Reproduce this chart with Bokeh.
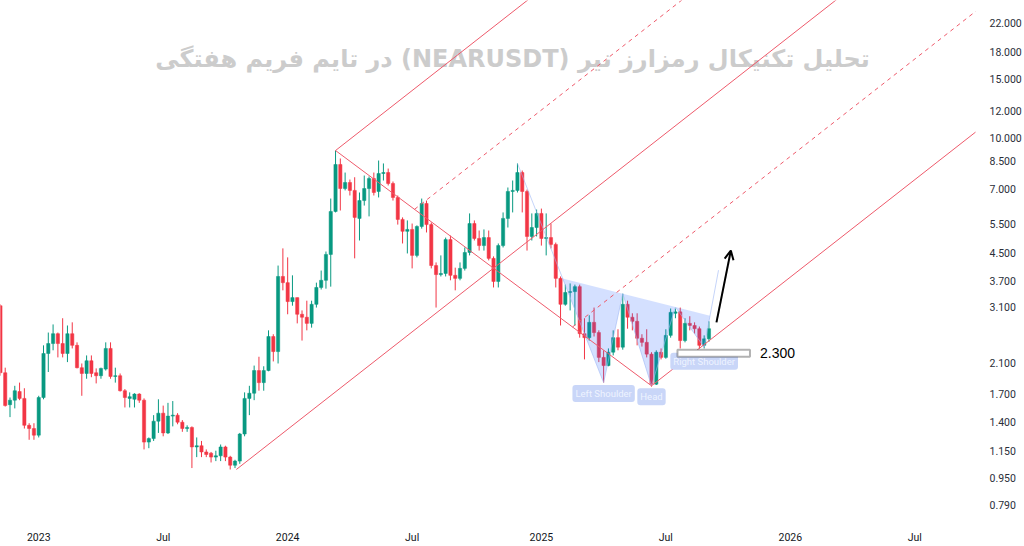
import numpy as np
import pandas as pd
from bokeh.plotting import figure
from bokeh.models import (Range1d, FixedTicker, NumeralTickFormatter, CustomJSTickFormatter,
                          Label, Arrow, OpenHead, BoxAnnotation, ColumnDataSource)
from bokeh.embed import file_html
from bokeh.resources import INLINE

# ---------------- data (weekly NEAR/USDT candles) ----------------
first_week = "2022-11-07"
opens = [3.13, 1.97, 1.58, 1.63, 1.73, 1.65, 1.37, 1.34, 1.28, 1.66,
         2.25, 2.41, 2.58, 2.41, 2.25, 2.58, 2.38, 2.04, 1.96, 2.14,
         1.97, 1.93, 2.02, 2.33, 1.92, 1.93, 1.74, 1.65, 1.64, 1.70,
         1.63, 1.22, 1.25, 1.41, 1.49, 1.30, 1.46, 1.47, 1.40, 1.34,
         1.35, 1.18, 1.19, 1.14, 1.13, 1.10, 1.11, 1.18, 1.10, 1.04,
         1.07, 1.29, 1.65, 1.71, 2.00, 1.84, 2.00, 2.53, 2.28, 3.83,
         3.67, 3.22, 3.31, 2.95, 2.89, 2.77, 3.16, 3.55, 3.73, 4.46,
         6.00, 8.30, 7.03, 7.33, 6.94, 5.72, 6.47, 7.03, 7.53, 6.89,
         7.80, 7.85, 7.28, 6.61, 5.68, 5.23, 5.30, 4.43, 5.41, 6.34,
         5.48, 4.13, 3.88, 3.91, 4.94, 3.86, 3.78, 4.05, 4.52, 5.52,
         4.98, 4.74, 5.01, 4.34, 3.70, 4.74, 5.72, 6.89, 6.94, 7.85,
         6.89, 5.05, 5.37, 5.92, 4.98, 5.01, 4.78, 3.78, 3.16, 3.43,
         3.45, 3.57, 2.58, 2.51, 2.79, 2.60, 2.19, 2.07, 2.27, 2.51,
         2.35, 3.16, 2.89, 2.81, 2.50, 2.43, 2.24, 1.82, 2.27, 2.19,
         2.55, 2.97, 3.00, 2.46, 2.77, 2.73, 2.67, 2.38, 2.49]
highs = [3.16, 2.04, 1.66, 1.80, 1.84, 1.77, 1.39, 1.39, 1.68, 2.38,
         2.60, 2.75, 2.60, 2.87, 2.73, 2.79, 2.43, 2.10, 2.22, 2.22,
         2.03, 2.04, 2.43, 2.43, 2.04, 1.96, 1.76, 1.72, 1.71, 1.71,
         1.65, 1.26, 1.47, 1.64, 1.57, 1.60, 1.62, 1.49, 1.42, 1.37,
         1.36, 1.26, 1.23, 1.16, 1.14, 1.15, 1.20, 1.19, 1.11, 1.08,
         1.30, 1.72, 1.80, 2.07, 2.20, 2.06, 2.64, 2.57, 4.13, 4.65,
         4.37, 3.86, 3.31, 3.03, 3.24, 3.24, 3.67, 3.99, 4.55, 6.56,
         9.14, 8.65, 7.85, 7.48, 7.60, 6.84, 7.69, 7.64, 7.85, 8.53,
         8.36, 8.07, 7.38, 6.70, 5.76, 5.64, 5.52, 5.45, 6.56, 6.47,
         5.56, 4.22, 4.43, 5.01, 5.08, 4.07, 4.22, 4.68, 5.92, 5.64,
         5.26, 5.30, 5.26, 4.40, 4.81, 5.96, 7.08, 7.43, 8.36, 7.96,
         6.98, 5.92, 6.08, 6.12, 5.92, 5.52, 4.84, 3.83, 3.62, 3.65,
         3.62, 3.62, 2.87, 2.93, 3.09, 2.64, 2.30, 2.33, 2.64, 2.66,
         3.40, 3.24, 2.97, 2.97, 2.57, 2.66, 2.27, 2.30, 2.33, 2.66,
         3.07, 3.07, 3.09, 2.87, 2.91, 2.79, 2.71, 2.55, 2.81]
lows = [1.93, 1.56, 1.45, 1.54, 1.63, 1.34, 1.24, 1.24, 1.26, 1.64,
        1.98, 2.30, 2.19, 2.19, 2.12, 2.33, 2.03, 1.68, 1.89, 1.91,
        1.83, 1.89, 2.00, 1.89, 1.84, 1.73, 1.55, 1.55, 1.55, 1.60,
        1.16, 1.17, 1.23, 1.30, 1.27, 1.29, 1.36, 1.38, 1.31, 1.31,
        1.02, 1.10, 1.10, 1.10, 1.06, 1.07, 1.07, 1.07, 1.01, 1.02,
        1.05, 1.27, 1.47, 1.63, 1.74, 1.74, 1.99, 2.13, 2.10, 3.48,
        2.95, 3.13, 2.77, 2.46, 2.64, 2.69, 3.09, 3.50, 3.52, 3.57,
        5.96, 6.04, 6.94, 6.70, 4.34, 4.91, 6.25, 5.80, 6.70, 6.61,
        7.43, 7.18, 6.47, 5.48, 4.81, 4.49, 4.05, 4.37, 5.33, 5.19,
        4.05, 3.09, 3.83, 3.83, 3.73, 3.48, 3.73, 3.99, 4.43, 4.91,
        4.58, 4.58, 4.28, 3.55, 3.55, 4.68, 5.37, 5.96, 6.84, 5.96,
        4.58, 4.91, 5.05, 4.74, 4.43, 4.65, 3.55, 2.73, 3.13, 3.03,
        2.73, 2.51, 2.16, 2.46, 2.53, 2.12, 1.84, 2.06, 2.22, 2.30,
        2.31, 2.67, 2.64, 2.38, 2.36, 2.19, 1.79, 1.81, 2.16, 2.17,
        2.51, 2.87, 2.33, 2.43, 2.64, 2.58, 2.33, 2.33, 2.44]
closes = [1.97, 1.57, 1.63, 1.74, 1.65, 1.37, 1.34, 1.28, 1.66, 2.25,
          2.41, 2.58, 2.41, 2.25, 2.58, 2.38, 2.04, 1.96, 2.14, 1.96,
          1.93, 2.03, 2.33, 1.92, 1.93, 1.74, 1.66, 1.67, 1.70, 1.63,
          1.22, 1.25, 1.41, 1.49, 1.30, 1.46, 1.47, 1.40, 1.34, 1.35,
          1.18, 1.19, 1.14, 1.12, 1.10, 1.11, 1.18, 1.10, 1.04, 1.07,
          1.29, 1.65, 1.71, 2.00, 1.84, 2.00, 2.53, 2.28, 3.83, 3.67,
          3.22, 3.31, 2.95, 2.89, 2.77, 3.16, 3.55, 3.73, 4.46, 6.00,
          8.30, 7.03, 7.33, 6.94, 5.76, 6.47, 7.03, 7.53, 6.84, 7.80,
          7.85, 7.28, 6.61, 5.68, 5.23, 5.30, 4.43, 5.41, 6.34, 5.48,
          4.13, 3.88, 3.91, 4.94, 3.86, 3.78, 4.05, 4.52, 5.52, 4.98,
          4.74, 5.01, 4.34, 3.70, 4.74, 5.72, 6.89, 6.94, 7.85, 6.89,
          5.05, 5.37, 5.92, 4.98, 5.01, 4.78, 3.78, 3.16, 3.43, 3.45,
          3.57, 2.58, 2.51, 2.79, 2.60, 2.19, 2.07, 2.27, 2.51, 2.35,
          3.16, 2.89, 2.81, 2.50, 2.43, 2.24, 1.82, 2.27, 2.19, 2.55,
          2.99, 3.00, 2.46, 2.77, 2.73, 2.67, 2.38, 2.49, 2.67]

price_ticks = [0.79, 0.95, 1.15, 1.4, 1.7, 2.1, 3.1, 3.7, 4.5, 5.5,
               7.0, 8.5, 10.0, 12.0, 15.0, 18.0, 22.0]
# time labels sit on the first weekly bar of each period
time_tick_dates = ["2023-01-02", "2023-07-03", "2024-01-01", "2024-07-01",
                   "2025-01-06", "2025-07-07", "2026-01-05", "2026-07-06"]
time_tick_labels = ["2023", "Jul", "2024", "Jul", "2025", "Jul", "2026", "Jul"]

# Andrews pitchfork anchors: low Oct-2023, high Mar-2024, low Jun-2025
pitchfork_dates = ["2023-10-18", "2024-03-11", "2025-06-16"]
pitchfork_prices = [1.01, 9.14, 1.80]

# inverse head & shoulders pattern points
hs_dates = ["2024-12-02", "2025-04-07", "2025-05-05", "2025-06-16",
            "2025-07-21", "2025-09-01", "2025-09-22"]
hs_prices = [8.36, 1.84, 3.40, 1.80, 3.10, 2.35, 4.00]
hs_labels = ["Left Shoulder", "Head", "Right Shoulder"]

level_text = "2.300"
level_box_dates = ["2025-07-24", "2025-11-07"]
level_box_prices = [2.20, 2.31]
arrow_dates = ["2025-09-19", "2025-10-10"]
arrow_prices = [2.79, 4.58]

title_text = "تحلیل تکنیکال رمزارز نیر (NEARUSDT) در تایم فریم هفتگی"

# ---------------- helpers ----------------
def tms(s):
    return pd.Timestamp(s).value / 1e6

DAY = 86400000.0
UP, DOWN = "#089981", "#F23645"
FORK = "#ee5a6b"

# ---------------- figure ----------------
FRAME_H = 516
FRAME_W = 978
x_anchor = tms("2025-06-16")
x_start = x_anchor - 653 / 0.686 * DAY
x_end = x_anchor + (FRAME_W - 653) / 0.686 * DAY
y_top = 10 * np.exp(137 / 144.8)
y_bot = 10 * np.exp(-(FRAME_H - 137) / 144.8)

p = figure(width=1024, height=546, x_axis_type="datetime", y_axis_type="log",
           x_range=Range1d(x_start, x_end), y_range=Range1d(y_bot, y_top),
           y_axis_location="right", output_backend="svg", toolbar_location=None,
           min_border=0, min_border_right=1024 - FRAME_W, min_border_bottom=546 - FRAME_H)
p.grid.visible = False
p.outline_line_color = None
p.background_fill_color = "white"
p.border_fill_color = "white"

# title watermark
p.add_layout(Label(x=512, y=FRAME_H - 58, x_units="screen", y_units="screen",
                   text="\u202b" + title_text + "\u202c", text_align="center",
                   text_baseline="middle", text_font="DejaVu Sans", text_font_style="bold",
                   text_font_size="24px", text_color="#cccccc", level="underlay"))

# candles
t = np.array([tms(d) for d in pd.date_range(first_week, periods=len(opens), freq="7D")])
o, h, l, c = map(np.array, (opens, highs, lows, closes))
up = c >= o
for mask, col in ((up, UP), (~up, DOWN)):
    src = ColumnDataSource(dict(t=t[mask], h=h[mask], l=l[mask],
                                top=np.maximum(o, c)[mask], bot=np.minimum(o, c)[mask]))
    p.segment(x0="t", y0="h", x1="t", y1="l", source=src, line_color=col, line_width=1)
    p.vbar(x="t", width=0.68 * 7 * DAY, top="top", bottom="bot", source=src,
           fill_color=col, line_color=col, line_width=0.5)

# head & shoulders pattern
hs_t = np.array([tms(d) for d in hs_dates])
hs_l = np.log10(hs_prices)
P = list(zip(hs_t, hs_l))

def intersect(a1, a2, b1, b2):
    d1 = (a2[0] - a1[0], a2[1] - a1[1])
    d2 = (b2[0] - b1[0], b2[1] - b1[1])
    cr = d1[0] * d2[1] - d1[1] * d2[0]
    s = ((b1[0] - a1[0]) * d2[1] - (b1[1] - a1[1]) * d2[0]) / cr
    return (a1[0] + s * d1[0], a1[1] + s * d1[1])

X0 = intersect(P[0], P[1], P[2], P[4])
X6 = intersect(P[5], P[6], P[2], P[4])
tris = [[X0, P[1], P[2]], [P[2], P[3], P[4]], [P[4], P[5], X6]]
p.patches(xs=[[q[0] for q in tr] for tr in tris],
          ys=[[10 ** q[1] for q in tr] for tr in tris],
          fill_color="#2962FF", fill_alpha=0.2, line_color=None)
p.line(hs_t, hs_prices, line_color="#9fb7f5", line_alpha=0.6, line_width=1)

# pitchfork
pf_t = [tms(d) for d in pitchfork_dates]
pf_l = np.log10(pitchfork_prices)
A, B, C = (pf_t[0], pf_l[0]), (pf_t[1], pf_l[1]), (pf_t[2], pf_l[2])
M = ((B[0] + C[0]) / 2, (B[1] + C[1]) / 2)
dv = (M[0] - A[0], M[1] - A[1])
K = 4.0

def ray(s0, dash):
    p.line([s0[0], s0[0] + K * dv[0]], [10 ** s0[1], 10 ** (s0[1] + K * dv[1])],
           line_color=FORK, line_width=1, line_dash=dash)

ray(A, "solid")
ray(B, "solid")
ray(C, "solid")
ray(((B[0] + M[0]) / 2, (B[1] + M[1]) / 2), "4 4")
ray(((M[0] + C[0]) / 2, (M[1] + C[1]) / 2), "4 4")
p.line([B[0], C[0]], [10 ** B[1], 10 ** C[1]], line_color=FORK, line_width=1)

# pattern labels
for idx, txt, off in zip((1, 3, 5), hs_labels, (-11, -11, -14)):
    p.add_layout(Label(x=hs_t[idx], y=hs_prices[idx], text=txt, y_offset=off,
                       text_align="center", text_baseline="middle", text_font="Roboto",
                       text_font_size="9.5px", text_color="#eef3ff",
                       background_fill_color="#c9d6f8", background_fill_alpha=1.0,
                       padding=3, border_radius=3))

# level box and text
bx0, bx1 = tms(level_box_dates[0]), tms(level_box_dates[1])
p.add_layout(BoxAnnotation(left=bx0, right=bx1, bottom=level_box_prices[0], top=level_box_prices[1],
                           fill_color="white", fill_alpha=1.0, line_color="black", line_width=2))
p.add_layout(Label(x=bx1, y=float(np.sqrt(level_box_prices[0] * level_box_prices[1])),
                   text=level_text, x_offset=10, text_baseline="middle", text_align="left",
                   text_font="Liberation Sans", text_font_size="14px", text_color="#000000"))

# arrow
p.add_layout(Arrow(end=OpenHead(size=9, line_width=2, line_color="black"),
                   x_start=tms(arrow_dates[0]), y_start=arrow_prices[0],
                   x_end=tms(arrow_dates[1]), y_end=arrow_prices[1],
                   line_color="black", line_width=2))

# axes
yax = p.yaxis[0]
yax.ticker = FixedTicker(ticks=price_ticks)
yax.formatter = NumeralTickFormatter(format="0.000")
yax.axis_line_color = None
yax.major_tick_line_color = None
yax.minor_tick_line_color = None
yax.major_label_standoff = 8
yax.major_label_text_font = "Roboto"
yax.major_label_text_font_size = "10.5px"
yax.major_label_text_color = "#2a2e39"

tick_ms = [tms(d) for d in time_tick_dates]
xax = p.xaxis[0]
xax.ticker = FixedTicker(ticks=tick_ms)
xax.formatter = CustomJSTickFormatter(args=dict(tvals=tick_ms, tlabels=time_tick_labels), code="""
for (let i = 0; i < tvals.length; i++) { if (Math.abs(tvals[i] - tick) < 1e6) return tlabels[i]; }
return "";
""")
xax.axis_line_color = None
xax.major_tick_line_color = None
xax.minor_tick_line_color = None
xax.major_label_standoff = 8
xax.major_label_text_font = "Roboto"
xax.major_label_text_font_size = "10.5px"
xax.major_label_text_color = "#131722"

open("out.html", "w").write(file_html(p, INLINE))
